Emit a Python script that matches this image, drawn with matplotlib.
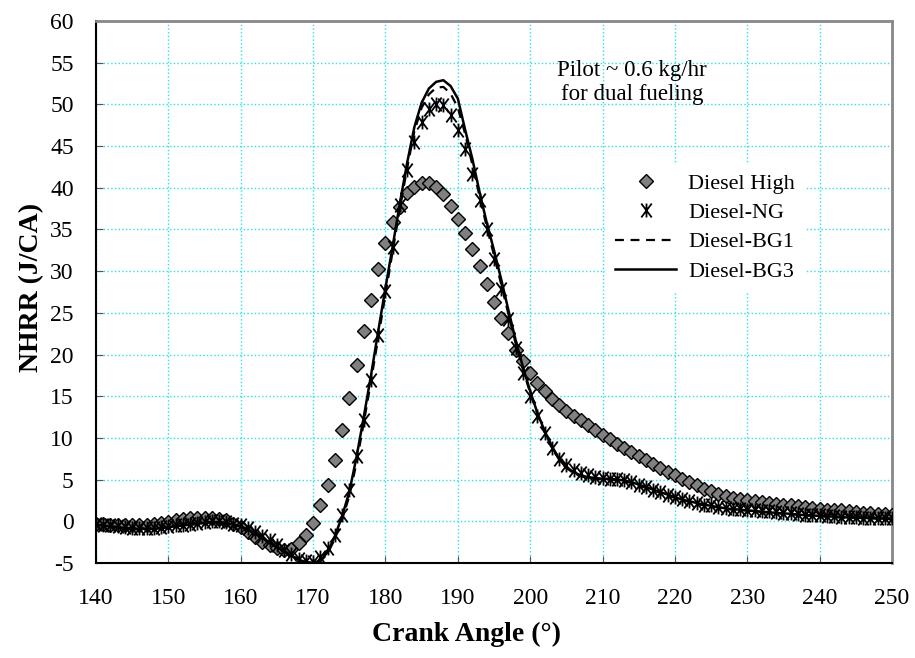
import numpy as np
import matplotlib
matplotlib.use('Agg')
import matplotlib.pyplot as plt
from matplotlib.path import Path

plt.rcParams['font.family'] = ['Liberation Serif', 'DejaVu Serif']
plt.rcParams['axes.unicode_minus'] = False

# crank angle, 1 deg steps
ca = np.arange(140, 251)

diesel_high = [
    -0.3, -0.35, -0.4, -0.45, -0.5, -0.5, -0.45, -0.4, -0.3, -0.2,      # 140-149
    -0.05, 0.1, 0.25, 0.35, 0.45, 0.45, 0.4, 0.3, 0.1, -0.3,           # 150-159
    -0.7, -1.3, -1.9, -2.5, -2.9, -3.2, -3.4, -3.3, -2.6, -1.6,        # 160-169
    -0.2, 1.9, 4.3, 7.4, 10.9, 14.8, 18.8, 22.8, 26.6, 30.2,           # 170-179
    33.4, 35.9, 37.7, 39.4, 40.1, 40.6, 40.6, 40.1, 39.2, 37.8,        # 180-189
    36.3, 34.6, 32.7, 30.6, 28.4, 26.3, 24.4, 22.6, 20.6, 19.2,        # 190-199
    17.8, 16.6, 15.6, 14.7, 14.0, 13.2, 12.6, 12.1, 11.5, 10.9,        # 200-209
    10.4, 9.9, 9.3, 8.8, 8.3, 7.8, 7.3, 6.9, 6.4, 5.9,                 # 210-219
    5.5, 5.1, 4.7, 4.3, 3.9, 3.6, 3.3, 3.0, 2.85, 2.7,                 # 220-229
    2.6, 2.45, 2.3, 2.2, 2.1, 2.0, 1.9, 1.8, 1.7, 1.6,                 # 230-239
    1.5, 1.4, 1.35, 1.3, 1.2, 1.1, 1.05, 1.0, 0.9, 0.85,               # 240-249
    0.8]

diesel_ng = [
    -0.3, -0.4, -0.5, -0.6, -0.7, -0.8, -0.8, -0.8, -0.8, -0.7,
    -0.6, -0.5, -0.4, -0.3, -0.2, -0.1, 0.0, 0.0, -0.1, -0.3,
    -0.5, -0.8, -1.3, -1.8, -2.3, -2.9, -3.4, -3.9, -4.5, -4.8,
    -4.9, -4.3, -3.2, -1.7, 0.7, 3.8, 7.8, 12.2, 17.0, 22.4,
    27.6, 32.9, 37.9, 42.1, 45.5, 47.9, 49.4, 50.1, 49.9, 48.7,
    46.9, 44.6, 41.7, 38.5, 35.1, 31.5, 27.8, 24.3, 20.8, 17.8,
    15.0, 12.6, 10.6, 8.8, 7.5, 6.8, 6.2, 5.8, 5.5, 5.3,
    5.2, 5.1, 5.1, 4.9, 4.7, 4.4, 4.1, 3.8, 3.5, 3.2,
    2.9, 2.7, 2.4, 2.2, 2.0, 1.9, 1.75, 1.6, 1.5, 1.45,
    1.4, 1.35, 1.25, 1.2, 1.1, 1.0, 0.95, 0.9, 0.8, 0.75,
    0.7, 0.65, 0.6, 0.55, 0.5, 0.5, 0.45, 0.45, 0.4, 0.4,
    0.4]

diesel_bg1 = [
    -0.4, -0.5, -0.6, -0.7, -0.8, -0.85, -0.9, -0.9, -0.9, -0.8,
    -0.7, -0.6, -0.5, -0.4, -0.3, -0.2, -0.1, -0.1, -0.2, -0.4,
    -0.6, -1.0, -1.5, -2.0, -2.6, -3.1, -3.6, -4.1, -4.6, -4.9,
    -5.0, -4.8, -3.9, -2.1, 0.2, 3.0, 7.0, 11.8, 16.8, 22.0,
    27.2, 32.4, 37.5, 42.4, 46.8, 49.6, 51.2, 52.0, 52.1, 51.3,
    49.6, 46.5, 42.8, 39.0, 35.3, 31.9, 28.4, 24.8, 21.3, 18.2,
    15.4, 12.9, 10.7, 8.9, 7.4, 6.4, 5.8, 5.4, 5.2, 5.1,
    5.0, 5.0, 4.9, 4.8, 4.6, 4.3, 4.0, 3.7, 3.4, 3.1,
    2.8, 2.6, 2.3, 2.1, 1.9, 1.8, 1.65, 1.5, 1.4, 1.35,
    1.3, 1.2, 1.1, 1.05, 1.0, 0.9, 0.85, 0.8, 0.7, 0.65,
    0.6, 0.55, 0.5, 0.45, 0.45, 0.4, 0.4, 0.35, 0.35, 0.3,
    0.3]

diesel_bg3 = [
    -0.4, -0.5, -0.6, -0.7, -0.8, -0.9, -0.9, -0.9, -0.9, -0.8,
    -0.7, -0.6, -0.5, -0.4, -0.3, -0.2, -0.1, -0.1, -0.2, -0.4,
    -0.6, -1.0, -1.5, -2.0, -2.6, -3.1, -3.6, -4.1, -4.6, -4.9,
    -5.0, -4.7, -3.7, -1.8, 0.6, 3.5, 7.7, 12.5, 17.5, 22.8,
    28.0, 33.0, 38.2, 43.0, 47.3, 50.2, 51.9, 52.7, 52.9, 52.2,
    50.7, 47.0, 43.5, 39.5, 35.8, 32.5, 29.0, 25.3, 21.7, 18.5,
    15.6, 13.0, 10.8, 9.0, 7.5, 6.5, 5.9, 5.5, 5.3, 5.2,
    5.1, 5.1, 5.0, 4.9, 4.7, 4.4, 4.1, 3.8, 3.5, 3.2,
    2.9, 2.6, 2.4, 2.2, 2.0, 1.85, 1.7, 1.55, 1.45, 1.4,
    1.3, 1.25, 1.15, 1.1, 1.0, 0.95, 0.9, 0.8, 0.75, 0.7,
    0.65, 0.6, 0.55, 0.5, 0.45, 0.45, 0.4, 0.4, 0.35, 0.35,
    0.3]

x_ticks = np.arange(140, 251, 10)
y_ticks = np.arange(-5, 61, 5)

# asterisk marker: x with a vertical bar
ast = Path([(0, -1), (0, 1), (-0.75, -1), (0.75, 1), (-0.75, 1), (0.75, -1)],
           [Path.MOVETO, Path.LINETO, Path.MOVETO, Path.LINETO, Path.MOVETO, Path.LINETO])

fig = plt.figure(figsize=(9.15, 6.58), dpi=100)
ax = fig.add_axes([96/915, 1-563/658, (892-96)/915, (563-21)/658])

ax.plot(ca, diesel_high, linestyle='none', marker='D', markersize=7,
        markerfacecolor='#808080', markeredgecolor='black', markeredgewidth=1.0,
        label='Diesel High', zorder=3)
ax.plot(ca, diesel_ng, linestyle='none', marker=ast, markersize=10,
        markeredgecolor='black', markerfacecolor='none', markeredgewidth=1.3,
        label='Diesel-NG', zorder=4)
ax.plot(ca, diesel_bg1, color='black', linestyle=(0, (4, 3)), linewidth=1.6,
        label='Diesel-BG1', zorder=5)
ax.plot(ca, diesel_bg3, color='black', linestyle='-', linewidth=1.8,
        label='Diesel-BG3', zorder=6)

ax.set_xlim(140, 250)
ax.set_ylim(-5, 60)
ax.set_xticks(x_ticks)
ax.set_yticks(y_ticks)
ax.grid(True, color='#20e4f0', linestyle=':', linewidth=1.0)
ax.set_axisbelow(True)

ax.tick_params(axis='both', direction='in', length=5, color='#555555', labelsize=17)
ax.tick_params(axis='x', pad=18)
ax.tick_params(axis='y', pad=16)

for s in ['left', 'bottom']:
    ax.spines[s].set_color('black')
    ax.spines[s].set_linewidth(1.5)
for s in ['top', 'right']:
    ax.spines[s].set_color('#888888')
    ax.spines[s].set_linewidth(2)

ax.set_xlabel('Crank Angle (°)', fontsize=20, fontweight='bold')
ax.xaxis.set_label_coords((467-96)/796, (563-622)/542)
ax.set_ylabel('NHRR (J/CA)', fontsize=20, fontweight='bold')
ax.yaxis.set_label_coords((44-96)/796, (563-287)/542)

ax.text(214.1, 52.6, 'Pilot ~ 0.6 kg/hr\nfor dual fueling', fontsize=16.5,
        ha='center', va='center', linespacing=1.2)

leg = ax.legend(loc='upper left', bbox_to_anchor=((605-96)/796, (563-163)/542),
                borderaxespad=0, fontsize=16, numpoints=1, handlelength=2.75,
                handletextpad=0.55, labelspacing=0.4, borderpad=0.45,
                fancybox=False, framealpha=1, facecolor='white', edgecolor='none')

fig.savefig('out.png', dpi=100)
